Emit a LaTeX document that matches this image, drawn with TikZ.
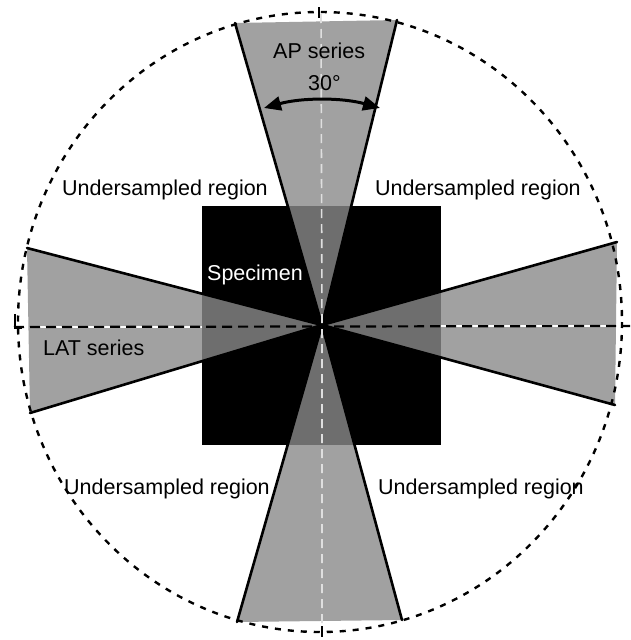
\documentclass[tikz,border=0pt]{standalone}
\usepackage{fontspec}
\setmainfont{Liberation Sans}
\usetikzlibrary{arrows.meta}
\begin{document}
\begin{tikzpicture}[x=1pt,y=-1pt,
  wedgefill/.style={fill=black!46, fill opacity=0.8, draw=none},
  wedgeedge/.style={line width=2.6pt, line cap=round},
  lbl/.style={font=\fontsize{21.5}{24}\selectfont, inner sep=0pt, anchor=base west},
  ring/.style={line width=2.4pt, dash pattern=on 6pt off 7pt},
  axisline/.style={line width=2.2pt, dash pattern=on 10pt off 6pt},
  faintaxis/.style={line width=1.6pt, white!75!gray, dash pattern=on 9pt off 6pt},
  tick/.style={line width=2.2pt},
  anglearrow/.style={line width=3pt, {Triangle[length=17pt,width=14pt]}-{Triangle[length=17pt,width=14pt]}},
]
\useasboundingbox (0,0) rectangle (630,640);
% centre and corners
\coordinate (O) at (322,325);
\coordinate (T1) at (235,23);  \coordinate (T2) at (397,20);
\coordinate (B1) at (237,622); \coordinate (B2) at (402,620);
\coordinate (L1) at (27,248);  \coordinate (L2) at (30,413);
\coordinate (R1) at (617,242); \coordinate (R2) at (615,405);
% specimen
\fill[black] (202,206) rectangle (441,445);
% wedges
\fill[wedgefill] (O) -- (T1) -- (T2) -- cycle;
\fill[wedgefill] (O) -- (B1) -- (B2) -- cycle;
\fill[wedgefill] (O) -- (L1) -- (L2) -- cycle;
\fill[wedgefill] (O) -- (R1) -- (R2) -- cycle;
% wedge edges
\draw[wedgeedge] (T1) -- (O) -- (T2);
\draw[wedgeedge] (B1) -- (O) -- (B2);
\draw[wedgeedge] (L1) -- (O) -- (L2);
\draw[wedgeedge] (R1) -- (O) -- (R2);
% faint vertical axis
\coordinate (VT) at (321,14);
\coordinate (VB) at (322,634);
\draw[faintaxis] (VT) -- (O) -- (VB);
\draw[tick] (319,7) -- (319,18);
\draw[tick] (322,626) -- (322,637);
% horizontal dashed axis
\coordinate (HL) at (14,327);
\coordinate (HR) at (630,326);
\draw[white, line width=2.2pt] (32,327) -- (202,327);
\draw[white, line width=2.2pt] (441,326) -- (615,326);
\draw[axisline] (HL) -- (HR);
\draw[tick] (15,314) -- (15,328) -- (22,328);
% dashed circle
\draw[ring] (320,322) ellipse [x radius=302, y radius=310];
% angle arrow
\coordinate (A1) at (264,108);
\coordinate (A2) at (380,108);
\draw[anglearrow] (A1) .. controls (302,97.5) and (342,97.5) .. (A2);
% labels
\node[lbl] (ap) at (273,58) {AP series};
\node[lbl] (ang) at (308,90) {30°};
\node[lbl] (lat) at (43,355) {LAT series};
\node[lbl, text=white] (spec) at (207,280) {Specimen};
\node[lbl] (utl) at (62,195) {Undersampled region};
\node[lbl] (utr) at (375,195) {Undersampled region};
\node[lbl] (ubl) at (64,494) {Undersampled region};
\node[lbl] (ubr) at (378,494) {Undersampled region};
\end{tikzpicture}
\end{document}
